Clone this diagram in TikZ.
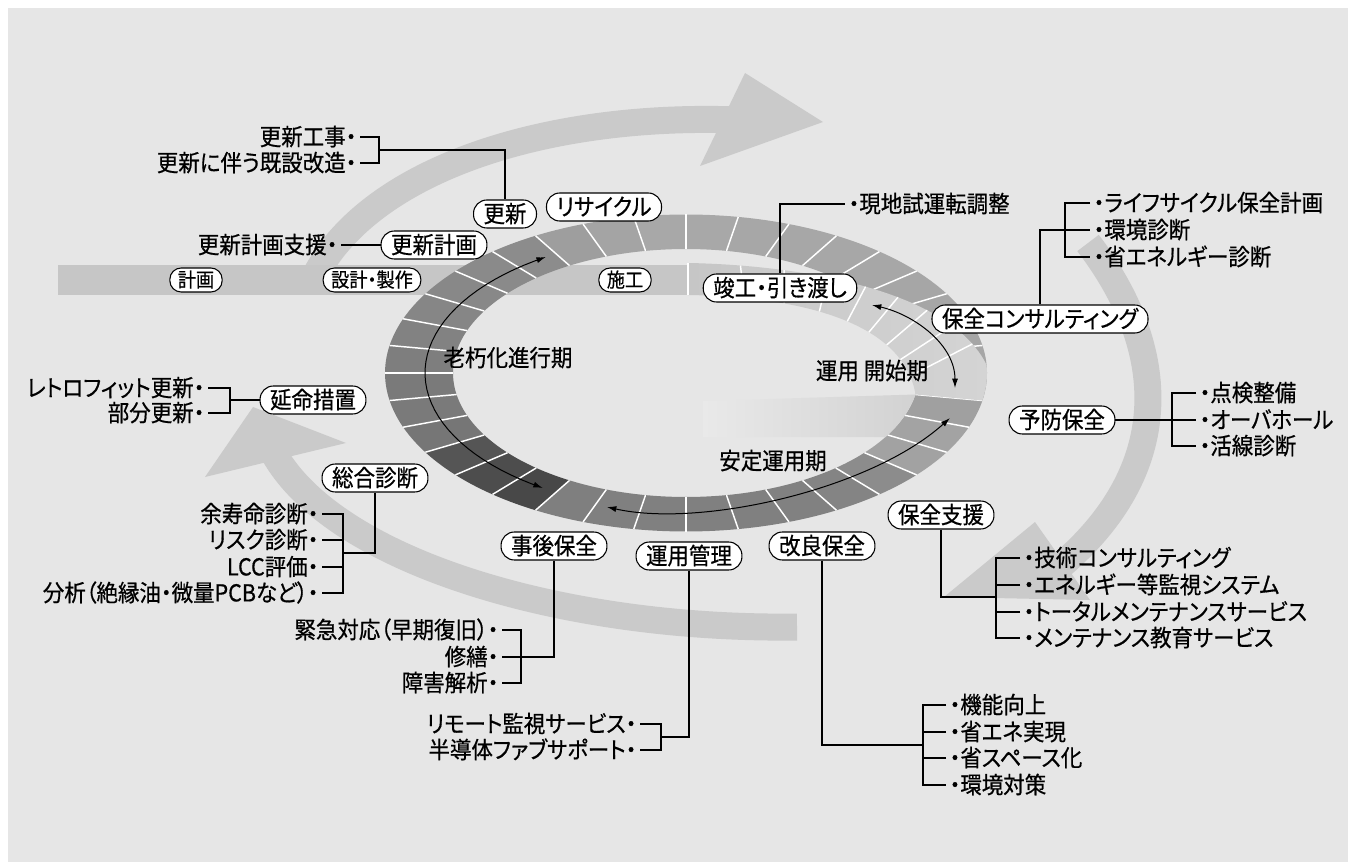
\documentclass[tikz,border=0pt]{standalone}
\usepackage{fontspec}
\setmainfont{Noto Sans CJK JP}[RawFeature={+palt}, FakeStretch=0.92, FakeBold=0.6]
\usetikzlibrary{arrows.meta}
\definecolor{bgc}{HTML}{E6E6E6}
\definecolor{bandc}{HTML}{C6C6C6}
\definecolor{arrc}{HTML}{CACACA}
\definecolor{ribL}{HTML}{C6C6C6}
\definecolor{ribR}{HTML}{D4D4D4}
\definecolor{glowL}{HTML}{E9E9E9}
\definecolor{glowR}{HTML}{D2D2D2}
\newcommand\mainfs{\fontsize{17.5}{21}\selectfont}
\newcommand\bandfs{\fontsize{14.8}{18}\selectfont}
\begin{document}
\begin{tikzpicture}[x=0.75pt,y=-0.75pt,
  pill/.style={draw=black, line width=0.8pt, fill=white, rounded corners=10pt, minimum height=21pt, inner xsep=7.5pt, inner ysep=0pt, font=\mainfs, text height=15pt, text depth=2.4pt},
  bpill/.style={pill, font=\bandfs, minimum height=18pt, rounded corners=8.5pt, inner xsep=6pt, text height=12.7pt, text depth=2.1pt},
  lbl/.style={font=\mainfs, inner xsep=2.5pt, inner ysep=0pt, text height=15pt, text depth=2.4pt},
  ltxt/.style={lbl, anchor=east},
  rtxt/.style={lbl, anchor=west},
  lead/.style={line width=0.85pt, draw=black},
  period/.style={line width=0.75pt, draw=black, {Latex[length=7pt,width=4.5pt]}-{Latex[length=7pt,width=4.5pt]}},
  bigarr/.style={draw=arrc, line width=20.25pt},
  sep/.style={draw=white, line width=1.1pt}
]
\useasboundingbox (0,0) rectangle (1348,862);
\fill[white] (0,0) rectangle (1348,862);
\fill[bgc] (8,8) rectangle (1348,862);

% ---------- big cycle arrows ----------
\coordinate (ta0) at (312,282);
\coordinate (ta1) at (738,120);
\draw[bigarr] (ta0) .. controls (365,170) and (545,113) .. (ta1);
\fill[arrc] (745,73) -- (823,122) -- (700,166) -- cycle;

\coordinate (ra0) at (1088,243);
\coordinate (ra1) at (1058,568);
\draw[bigarr] (ra0) .. controls (1170,350) and (1175,470) .. (ra1);
\fill[arrc] (1035,522) -- (944,597) -- (1090,600) -- cycle;

\coordinate (ba0) at (797,627);
\coordinate (ba1) at (272,450);
\draw[bigarr] (ba0) .. controls (560,630) and (330,560) .. (ba1);
\fill[arrc] (253,407) -- (346,443) -- (205,477) -- cycle;

% ---------- horizontal band ----------
\fill[bandc] (58,265) rectangle (688,295);

% ---------- ring segments ----------
\foreach \s/\c in {0/A6A6A6,10/A6A6A6,20/A6A6A6,30/A6A6A6,40/A7A7A7,50/A7A7A7,60/A7A7A7,70/A7A7A7,80/A8A8A8,90/A8A8A8,100/A4A4A4,110/9E9E9E,120/8C8C8C,130/8A8A8A,140/888888,150/868686,160/828282,170/7E7E7E,180/7A7A7A,190/7A7A7A,200/767676,210/555555,220/4D4D4D,230/484848,240/7F7F7F,250/808080,260/808080,270/808080,280/808080,290/818181,300/848484,310/8C8C8C,320/A2A2A2,330/A3A3A3,340/A0A0A0,350/9E9E9E}{
  \pgfmathsetmacro{\e}{\s+10}
  \definecolor{segc}{HTML}{\c}
  \fill[segc] plot[domain=\s:\e,samples=8] ({686+301*cos(\x)},{373-158.5*sin(\x)})
     -- plot[domain=\e:\s,samples=8] ({686+233*cos(\x)},{373-124*sin(\x)}) -- cycle;
}
\foreach \a in {0,10,...,350}{
  \draw[sep] ({686+233*cos(\a)},{373-124*sin(\a)}) -- ({686+301*cos(\a)},{373-158.5*sin(\a)});
}

% ---------- light ribbon (band entering the ring) ----------
\coordinate (U0) at (688,263);
\coordinate (U1) at (800,265);
\coordinate (U2) at (950,290);
\coordinate (U3) at (986.6,365);
\coordinate (L0) at (688,295);
\coordinate (L1) at (820,297);
\coordinate (L2) at (905,330);
\coordinate (L3) at (915.5,394.5);
\path[left color=ribL, right color=ribR] (U0) .. controls (U1) and (U2) .. (U3)
   -- plot[domain=2.9:-10,samples=6] ({686+301*cos(\x)},{373-158.5*sin(\x)})
   -- (L3) .. controls (L2) and (L1) .. (L0) -- cycle;
\path (U0) .. controls (U1) and (U2) .. (U3)
   coordinate[pos=0] (u0) coordinate[pos=0.15] (u1) coordinate[pos=0.27] (u2)
   coordinate[pos=0.39] (u3) coordinate[pos=0.5] (u4) coordinate[pos=0.6] (u5)
   coordinate[pos=0.7] (u6) coordinate[pos=0.8] (u7) coordinate[pos=0.9] (u8);
\path (L0) .. controls (L1) and (L2) .. (L3)
   coordinate[pos=0] (l0) coordinate[pos=0.15] (l1) coordinate[pos=0.27] (l2)
   coordinate[pos=0.39] (l3) coordinate[pos=0.5] (l4) coordinate[pos=0.6] (l5)
   coordinate[pos=0.7] (l6) coordinate[pos=0.8] (l7) coordinate[pos=0.9] (l8);
\foreach \i in {0,...,8}{\draw[sep] (u\i) -- (l\i);}

% ---------- glow inside the hole ----------
\path[left color=glowL, right color=glowR] (L3) -- (703,401) -- (703,437)
   -- plot[domain=-31.1:-10,samples=10] ({686+233*cos(\x)},{373-124*sin(\x)}) -- cycle;

% ---------- period arrows ----------
\draw[period] plot[domain=122.5:236.7,samples=40] ({686+261*cos(\x)},{373-137.5*sin(\x)});
\coordinate (a2s) at (607,507);
\coordinate (a2e) at (950,418);
\draw[period] (a2s) .. controls (700,528) and (870,490) .. (a2e);
\coordinate (a3s) at (872,305);
\coordinate (a3e) at (955,388);
\draw[period] (a3s) .. controls (915,315) and (955,345) .. (a3e);

% ---------- nodes ----------
\node[ltxt] (t_kojiA) at (360,137) {更新工事・};
\node[ltxt] (t_kojiB) at (360,163) {更新に伴う既設改造・};
\node[pill] (n_kosin) at (505,214) {更新};
\node[pill] (n_recyc) at (604,207) {リサイクル};
\node[ltxt] (t_shien) at (341,245) {更新計画支援・};
\node[pill] (n_kkaku) at (434,245) {更新計画};
\node[bpill] (p_keikaku) at (196,280) {計画};
\node[bpill] (p_sekkei) at (372,280) {設計・製作};
\node[bpill] (p_seko) at (625,280) {施工};
\node[pill] (p_shunko) at (780,288) {竣工・引き渡し};
\node[rtxt] (t_genchi) at (845,204) {・現地試運転調整};
\node[rtxt] (t_lc) at (1090,203) {・ライフサイクル保全計画};
\node[rtxt] (t_kankyo) at (1090,230) {・環境診断};
\node[rtxt] (t_shoene) at (1090,257) {・省エネルギー診断};
\node[pill] (p_consul) at (1040,319) {保全コンサルティング};
\node[lbl] (t_rokyu) at (508,358) {老朽化進行期};
\node[lbl] (t_kaishi) at (872,371) {運用 開始期};
\node[lbl] (t_antei) at (773,461) {安定運用期};
\node[pill] (p_enmei) at (313,400) {延命措置};
\node[ltxt] (t_retro) at (208,388) {レトロフィット更新・};
\node[ltxt] (t_bubun) at (208,413) {部分更新・};
\node[pill] (p_yobo) at (1062,420) {予防保全};
\node[rtxt] (t_tenken) at (1196,393) {・点検整備};
\node[rtxt] (t_ovh) at (1196,420) {・オーバホール};
\node[rtxt] (t_kasen) at (1196,446) {・活線診断};
\node[pill] (p_sogo) at (375,478) {総合診断};
\node[ltxt] (t_yoju) at (322,514) {余寿命診断・};
\node[ltxt] (t_risk) at (322,540) {リスク診断・};
\node[ltxt] (t_lcc) at (322,567) {LCC評価・};
\node[ltxt] (t_bunseki) at (322,593) {分析（絶縁油・微量PCBなど）・};
\node[pill] (p_hozen) at (941,515) {保全支援};
\node[rtxt] (t_gijutsu) at (1020,558) {・技術コンサルティング};
\node[rtxt] (t_energy) at (1020,585) {・エネルギー等監視システム};
\node[rtxt] (t_total) at (1020,612) {・トータルメンテナンスサービス};
\node[rtxt] (t_kyoiku) at (1020,638) {・メンテナンス教育サービス};
\node[pill] (p_jigo) at (554,546) {事後保全};
\node[ltxt] (t_kinkyu) at (502,630) {緊急対応（早期復旧）・};
\node[ltxt] (t_shuzen) at (502,657) {修繕・};
\node[ltxt] (t_shogai) at (502,683) {障害解析・};
\node[pill] (p_unyo) at (689,556) {運用管理};
\node[ltxt] (t_remote) at (640,724) {リモート監視サービス・};
\node[ltxt] (t_fab) at (640,750) {半導体ファブサポート・};
\node[pill] (p_kairyo) at (822,546) {改良保全};
\node[rtxt] (t_kino) at (946,705) {・機能向上};
\node[rtxt] (t_shoeneB) at (946,732) {・省エネ実現};
\node[rtxt] (t_space) at (946,758) {・省スペース化};
\node[rtxt] (t_taisaku) at (946,785) {・環境対策};

% ---------- bracket joints ----------
\coordinate (bk1) at (379,150);
\coordinate (bk2) at (1065,230);
\coordinate (bk3) at (230,400);
\coordinate (bk4) at (1172,420);
\coordinate (bk5) at (343,553);
\coordinate (bk6) at (996,597);
\coordinate (bk7) at (521,657);
\coordinate (bk8) at (661,737);
\coordinate (bk9) at (923,745);

% ---------- leader lines ----------
\draw[lead] (t_kojiA.east) -| (bk1) |- (t_kojiB.east);
\draw[lead] (bk1) -| (n_kosin.north);
\draw[lead] (t_shien.east) -- (n_kkaku.west);
\draw[lead] (p_shunko.north) |- (t_genchi.west);
\draw[lead] (t_lc.west) -| (bk2) |- (t_shoene.west);
\draw[lead] (p_consul.north) |- (t_kankyo.west);
\draw[lead] (t_retro.east) -| (bk3) |- (t_bubun.east);
\draw[lead] (bk3) -- (p_enmei.west);
\draw[lead] (t_tenken.west) -| (bk4) |- (t_kasen.west);
\draw[lead] (p_yobo.east) -- (t_ovh.west);
\draw[lead] (t_yoju.east) -| (bk5) |- (t_bunseki.east);
\draw[lead] (t_risk.east) -- (t_risk.east -| bk5);
\draw[lead] (t_lcc.east) -- (t_lcc.east -| bk5);
\draw[lead] (p_sogo.south) |- (bk5);
\draw[lead] (t_gijutsu.west) -| (bk6) |- (t_kyoiku.west);
\draw[lead] (t_energy.west) -- (t_energy.west -| bk6);
\draw[lead] (t_total.west) -- (t_total.west -| bk6);
\draw[lead] (p_hozen.south) |- (bk6);
\draw[lead] (t_kinkyu.east) -| (bk7) |- (t_shogai.east);
\draw[lead] (p_jigo.south) |- (t_shuzen.east);
\draw[lead] (t_remote.east) -| (bk8) |- (t_fab.east);
\draw[lead] (p_unyo.south) |- (bk8);
\draw[lead] (t_kino.west) -| (bk9) |- (t_taisaku.west);
\draw[lead] (t_shoeneB.west) -- (t_shoeneB.west -| bk9);
\draw[lead] (t_space.west) -- (t_space.west -| bk9);
\draw[lead] (p_kairyo.south) |- (bk9);
\end{tikzpicture}
\end{document}
